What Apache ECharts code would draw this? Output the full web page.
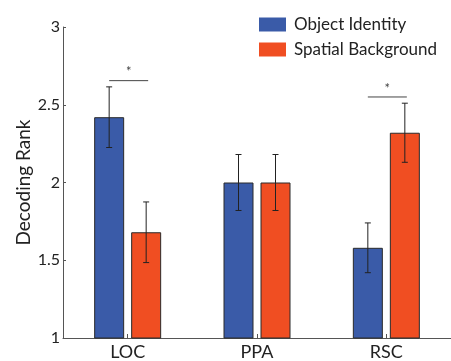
<!DOCTYPE html>
<html>
<head>
<meta charset="utf-8">
<script src="https://cdn.jsdelivr.net/npm/echarts@6/dist/echarts.min.js"></script>
<style>html,body{margin:0;padding:0;background:#fff}#c{width:451px;height:361px}</style>
</head>
<body>
<div id="c"></div>
<script>
var categories = ['LOC', 'PPA', 'RSC'];
var objectIdentity = [2.42, 2.00, 1.58];
var objectErr = [0.195, 0.18, 0.16];
var spatialBackground = [1.68, 2.00, 2.32];
var spatialErr = [0.195, 0.18, 0.19];
var yTicks = [1, 1.5, 2, 2.5, 3];
// significance: [category index, line value]
var significance = [[0, 2.655], [2, 2.55]];

var BAR_W = 30, GAP = 7, OFF = (BAR_W + GAP) / 2;
var FONT = 'Lato, "Open Sans", sans-serif';

function errSeries(vals, errs, sign) {
  return {
    type: 'custom',
    z: 10,
    data: vals.map(function (v, i) { return [i, v - errs[i], v + errs[i]]; }),
    renderItem: function (params, api) {
      var lo = api.coord([api.value(0), api.value(1)]);
      var hi = api.coord([api.value(0), api.value(2)]);
      var x = lo[0] + sign * OFF;
      var c = 3;
      var st = { stroke: '#222', lineWidth: 1 };
      return { type: 'group', children: [
        { type: 'line', shape: { x1: x, y1: lo[1], x2: x, y2: hi[1] }, style: st },
        { type: 'line', shape: { x1: x - c, y1: lo[1], x2: x + c, y2: lo[1] }, style: st },
        { type: 'line', shape: { x1: x - c, y1: hi[1], x2: x + c, y2: hi[1] }, style: st }
      ]};
    }
  };
}

var chart = echarts.init(document.getElementById('c'));
chart.setOption({
  animation: false,
  textStyle: { fontFamily: FONT },
  grid: { left: 63, width: 398, top: 27, bottom: 23 },
  legend: {
    left: 259, top: 16, orient: 'vertical', padding: 0,
    icon: 'rect',
    itemWidth: 27, itemHeight: 14, itemGap: 8,
    itemStyle: { borderWidth: 0 },
    data: ['Object Identity', 'Spatial Background'],
    textStyle: { fontSize: 17, color: '#222', fontFamily: FONT, padding: [0, 0, 0, 3] }
  },
  xAxis: {
    type: 'category', data: categories,
    axisLine: { lineStyle: { color: '#555', width: 1 } },
    axisTick: { show: true, inside: true, alignWithLabel: true, length: 4, lineStyle: { color: '#555' } },
    axisLabel: { fontSize: 18, color: '#222', margin: 5, fontFamily: FONT }
  },
  yAxis: {
    type: 'value', min: 1, max: 3, interval: 0.5,
    name: 'Decoding Rank', nameLocation: 'middle', nameGap: 30, nameMoveOverlap: false,
    nameTextStyle: { fontSize: 19, color: '#222', fontFamily: FONT },
    splitLine: { show: false },
    axisLine: { show: true, lineStyle: { color: '#555', width: 1 } },
    axisTick: { show: true, inside: true, length: 3, lineStyle: { color: '#555' } },
    axisLabel: {
      fontSize: 16, color: '#222', margin: 3, fontFamily: FONT,
      formatter: function (v) { return yTicks.indexOf(v) >= 0 ? String(v) : ''; }
    }
  },
  series: [
    { name: 'Object Identity', type: 'bar', data: objectIdentity, barWidth: BAR_W, barGap: (GAP / BAR_W * 100) + '%',
      itemStyle: { color: '#3a5ba8', borderColor: '#2a2a2a', borderWidth: 1 } },
    { name: 'Spatial Background', type: 'bar', data: spatialBackground, barWidth: BAR_W,
      itemStyle: { color: '#f04e22', borderColor: '#2a2a2a', borderWidth: 1 } },
    errSeries(objectIdentity, objectErr, -1),
    errSeries(spatialBackground, spatialErr, 1),
    {
      type: 'custom', z: 10,
      data: significance,
      renderItem: function (params, api) {
        var p = api.coord([api.value(0), api.value(1)]);
        return { type: 'group', children: [
          { type: 'line', shape: { x1: p[0] - OFF, y1: p[1], x2: p[0] + OFF + 2, y2: p[1] }, style: { stroke: '#444', lineWidth: 1 } },
          { type: 'text', style: { text: '*', x: p[0] + 1, y: p[1] - 2, textAlign: 'center', textVerticalAlign: 'bottom', fontSize: 13, fill: '#444', fontFamily: FONT } }
        ]};
      }
    }
  ]
});
</script>
</body>
</html>
